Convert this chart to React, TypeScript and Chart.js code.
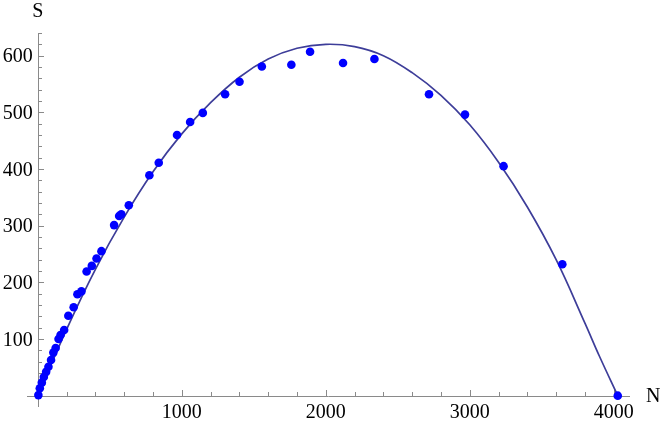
import React, { useEffect, useRef } from "react";
import { Chart, registerables } from "chart.js";

Chart.register(...registerables);

// Observed data (N, S)
const dataN = [4, 14, 28, 42, 58, 74, 92, 108, 124, 144, 158, 183, 212, 249, 275, 303, 339, 375, 408, 442, 530, 565, 580, 632, 775, 840, 967, 1058, 1146, 1301, 1401, 1556, 1761, 1891, 2120, 2338, 2717, 2967, 3235, 3643, 4028];
const dataS = [1, 13, 23, 33, 42, 51, 63, 76, 84, 100, 107, 116, 141, 156, 179, 184, 219, 229, 242, 255, 301, 317, 320, 336, 389, 411, 460, 483, 499, 532, 554, 581, 584, 607, 587, 594, 532, 496, 405, 232, 0];

// Fitted curve
const curveN = [0, 200, 400, 600, 800, 1000, 1200, 1400, 1600, 1800, 2000, 2200, 2400, 2600, 2800, 3000, 3200, 3400, 3600, 3800, 3900, 4028];
const curveS = [0, 117, 223, 315, 395, 462, 517, 562, 594, 613, 620, 616, 600, 570, 530, 478, 412, 333, 240, 128, 70, 0];

const xMajor = [1000, 2000, 3000, 4000];
const yMajor = [100, 200, 300, 400, 500, 600];

const axesPlugin = {
  id: "mmaAxes",
  beforeDatasetsDraw(chart: any) {
    const { ctx, chartArea, scales } = chart;
    const xs = scales.x;
    const ys = scales.y;
    const x0 = xs.getPixelForValue(0);
    const y0 = ys.getPixelForValue(0);
    ctx.save();
    ctx.strokeStyle = "#8a8a8a";
    ctx.lineWidth = 1;
    // axis lines
    ctx.beginPath();
    ctx.moveTo(chartArea.left, Math.round(y0) + 0.5);
    ctx.lineTo(chartArea.right, Math.round(y0) + 0.5);
    ctx.moveTo(Math.round(x0) + 0.5, chartArea.bottom);
    ctx.lineTo(Math.round(x0) + 0.5, chartArea.top);
    ctx.stroke();
    // x ticks
    ctx.beginPath();
    for (let v = 200; v <= 4100; v += 200) {
      const px = Math.round(xs.getPixelForValue(v)) + 0.5;
      const len = v % 1000 === 0 ? 6 : 4;
      ctx.moveTo(px, Math.round(y0));
      ctx.lineTo(px, Math.round(y0) - len);
    }
    // y ticks
    for (let v = 20; v <= 640; v += 20) {
      const py = Math.round(ys.getPixelForValue(v)) + 0.5;
      const len = v % 100 === 0 ? 6 : 4;
      ctx.moveTo(Math.round(x0), py);
      ctx.lineTo(Math.round(x0) + len, py);
    }
    ctx.stroke();
    // labels
    ctx.fillStyle = "#000";
    ctx.font = "20px 'Liberation Serif', 'DejaVu Serif', serif";
    ctx.textBaseline = "alphabetic";
    ctx.textAlign = "center";
    for (const v of xMajor) {
      ctx.fillText(String(v), xs.getPixelForValue(v), y0 + 22.5);
    }
    ctx.textAlign = "right";
    for (const v of yMajor) {
      ctx.fillText(String(v), x0 - 5, ys.getPixelForValue(v) + 6.5);
    }
    ctx.textAlign = "center";
    ctx.fillText("S", x0, 17);
    ctx.textAlign = "left";
    ctx.fillText("N", chartArea.right + 16, y0 + 6.5);
    ctx.restore();
  },
};

export default function App() {
  const ref = useRef<HTMLCanvasElement | null>(null);
  useEffect(() => {
    if (!ref.current) return;
    const chart = new Chart(ref.current, {
      type: "scatter",
      data: {
        datasets: [
          {
            label: "fit",
            data: curveN.map((n, i) => ({ x: n, y: curveS[i] })),
            showLine: true,
            borderColor: "#3d3d99",
            borderWidth: 1.7,
            pointRadius: 0,
            tension: 0.4,
            clip: false,
            order: 2,
          } as any,
          {
            label: "data",
            data: dataN.map((n, i) => ({ x: n, y: dataS[i] })),
            showLine: false,
            backgroundColor: "#0000ff",
            borderColor: "#0000ff",
            borderWidth: 0,
            pointRadius: 4.3,
            clip: false,
            order: 1,
          } as any,
        ],
      },
      options: {
        animation: false,
        responsive: false,
        devicePixelRatio: 1,
        layout: { padding: { left: 27, right: 34, top: 33, bottom: 18 } },
        plugins: { legend: { display: false }, tooltip: { enabled: false } },
        scales: {
          x: { type: "linear", min: -75, max: 4113, display: false },
          y: { type: "linear", min: -20, max: 640, display: false },
        },
      },
      plugins: [axesPlugin],
    });
    return () => chart.destroy();
  }, []);
  return (
    <div style={{ position: "absolute", left: 0, top: 0, width: 664, height: 425, background: "#fff" }}>
      <canvas ref={ref} width={664} height={425} style={{ display: "block" }} />
    </div>
  );
}
